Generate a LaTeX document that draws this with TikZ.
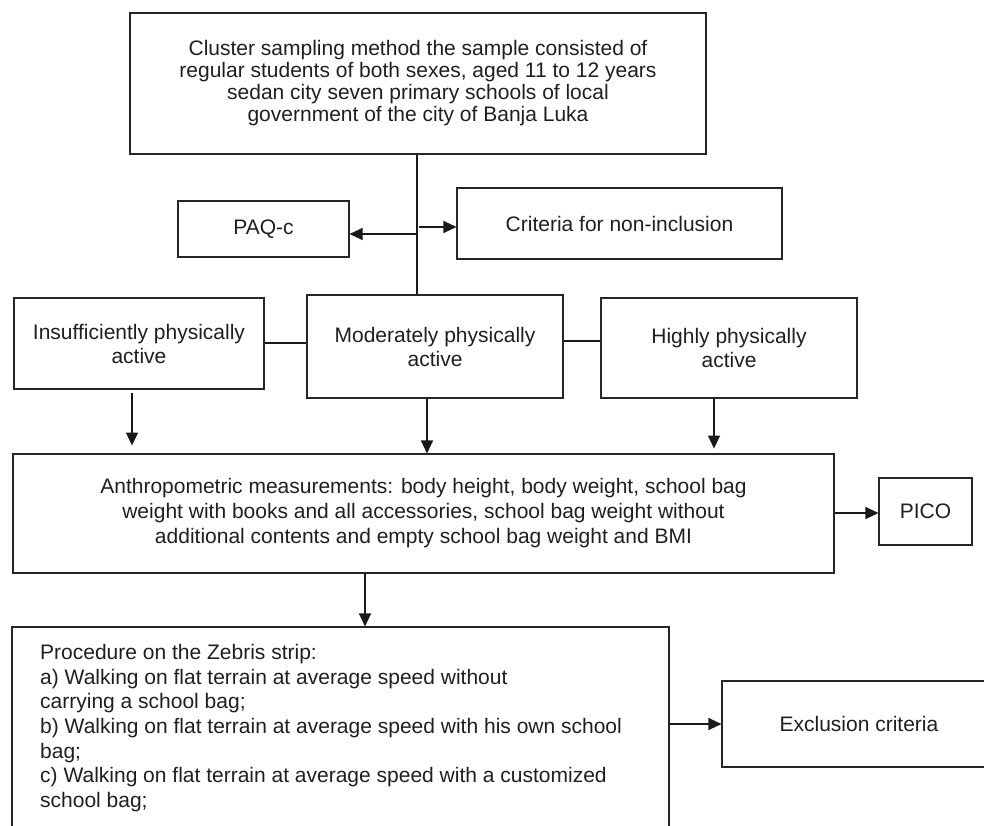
\documentclass[tikz,border=0pt]{standalone}
\usepackage{fontspec}
\setmainfont{Liberation Sans}
\usetikzlibrary{arrows.meta,calc}
\begin{document}
\begin{tikzpicture}[x=1pt,y=-1pt,
  box/.style={draw=black!85, line width=1.1pt, rectangle, inner sep=0pt, align=center, text=black!88, font=\fontsize{21}{24}\selectfont},
  arr/.style={line width=1.1pt, draw=black!90, -{Triangle[length=13pt,width=12pt]}},
  ln/.style={line width=1.1pt, draw=black!90}]
\useasboundingbox (0,0) rectangle (984,825);
% nodes
\node[box, minimum width=576pt, minimum height=141pt, font=\fontsize{21}{22}\selectfont] (top) at (418,83.5)
  {Cluster sampling method the sample consisted of\\regular students of both sexes, aged 11 to 12 years\\sedan city seven primary schools of local\\government of the city of Banja Luka};
\node[box, minimum width=171pt, minimum height=56pt] (paq) at (263.5,229) {PAQ-c};
\node[box, minimum width=325pt, minimum height=71pt] (crit) at (619.5,223.5) {Criteria for non-inclusion};
\node[box, minimum width=250pt, minimum height=91pt] (ins) at (139,343.5) {Insufficiently physically\\active};
\node[box, minimum width=256pt, minimum height=103pt] (mod) at (435,346.5) {Moderately physically\\active};
\node[box, minimum width=256pt, minimum height=100pt] (high) at (729,348) {Highly physically\\active};
\node[box, minimum width=821pt, minimum height=119pt, font=\fontsize{21}{25}\selectfont] (anth) at (423.5,513.5)
  {Anthropometric measurements: body height, body weight, school bag\\weight with books and all accessories, school bag weight without\\additional contents and empty school bag weight and BMI};
\node[box, minimum width=93pt, minimum height=67pt] (pico) at (925.5,511.5) {PICO};
\node[box, minimum width=657pt, minimum height=213pt] (proc) at (340.5,733.5) {};
\node[anchor=north west, inner sep=0pt, align=left, text=black!88, font=\fontsize{21}{24.7}\selectfont] (proctext) at (40,644)
  {Procedure on the Zebris strip:\\a) Walking on flat terrain at average speed without\\carrying a school bag;\\b) Walking on flat terrain at average speed with his own school\\bag;\\c) Walking on flat terrain at average speed with a customized\\school bag;};
\node[box, minimum width=274pt, minimum height=86pt] (excl) at (859,724) {Exclusion criteria};
% connectors
\coordinate (j1) at ($(top.south |- paq.east)+(0,5)$);
\coordinate (j2) at ($(top.south |- crit.west)+(1,3.5)$);
\draw[ln] ([xshift=-1pt]top.south) -- ([xshift=-1pt]top.south |- mod.north);
\draw[arr] ([xshift=-1pt]j1) -- ($(paq.east)+(0,5)$);
\draw[arr] (j2) -- ($(crit.west)+(0,3.5)$);
\draw[ln] ($(ins.east)+(0,-0.5)$) -- ($(mod.west)+(0,-3.5)$);
\draw[ln] ($(mod.east)+(0,-5.5)$) -- ($(high.west)+(0,-7)$);
\draw[arr] ($(ins.south)+(-7,3)$) -- ($(ins.south)+(-7,56)$);
\draw[arr] ($(mod.south)+(-8,0)$) -- ($(anth.north -| mod.south)+(-8,0)$);
\draw[arr] ($(high.south)+(-15,0)$) -- ($(high.south)+(-15,50)$);
\draw[arr] ($(anth.east)+(0,-0.5)$) -- ($(pico.west)+(0,1.5)$);
\draw[arr] (anth.south -| 365,0) -- (proc.north -| 365,0);
\draw[arr] ($(proc.east |- excl.west)$) -- (excl.west);
\end{tikzpicture}
\end{document}
